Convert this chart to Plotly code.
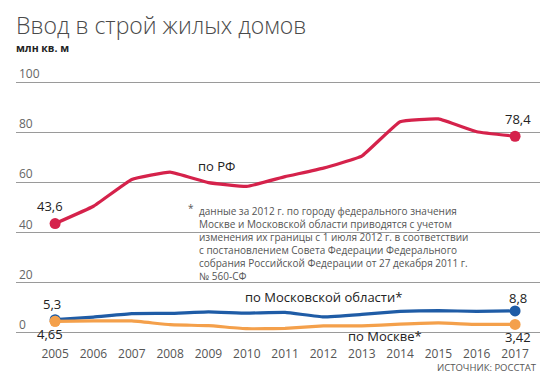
import plotly.graph_objects as go

years = list(range(2005, 2018))
rf = [43.6, 50.5, 61.2, 64.1, 59.9, 58.4, 62.3, 65.7, 70.5, 84.2, 85.3, 80.2, 78.4]
mo = [5.3, 6.3, 7.7, 7.8, 8.4, 7.9, 8.2, 6.4, 7.4, 8.6, 8.9, 8.6, 8.8]
msk = [4.65, 4.8, 4.8, 3.3, 2.9, 1.7, 1.8, 2.8, 2.8, 3.5, 4.0, 3.4, 3.42]
y_ticks = [0, 20, 40, 60, 80, 100]

title = "Ввод в строй жилых домов"
subtitle = "млн кв. м"
note_lines = [
    "данные за 2012 г. по городу федерального значения",
    "Москве и Московской области приводятся с учетом",
    "изменения их границы с 1 июля 2012 г. в соответствии",
    "с постановлением Совета Федерации Федерального",
    "собрания Российской Федерации от 27 декабря 2011 г.",
    "№ 560-СФ",
]
source = "ИСТОЧНИК: РОССТАТ"

RED = "#d5224b"
BLUE = "#1f5ca6"
ORANGE = "#f4a04b"
FONT = "Open Sans"

fig = go.Figure()

def add_series(vals, color):
    fig.add_trace(go.Scatter(x=years, y=vals, mode="lines",
                             line=dict(color=color, width=3.2, shape="spline", smoothing=0.3),
                             hoverinfo="skip", showlegend=False))
    fig.add_trace(go.Scatter(x=[years[0], years[-1]], y=[vals[0], vals[-1]], mode="markers",
                             marker=dict(color=color, size=11), hoverinfo="skip", showlegend=False))

add_series(rf, RED)
add_series(mo, BLUE)
add_series(msk, ORANGE)
# 2005 marker: orange covers blue
fig.add_trace(go.Scatter(x=[years[0]], y=[msk[0]], mode="markers",
                         marker=dict(color=ORANGE, size=11), hoverinfo="skip", showlegend=False))

ann = []
for t in y_ticks:
    ann.append(dict(x=0, xref="paper", y=t, yref="y", text=str(t), showarrow=False,
                    xanchor="left", yanchor="bottom", xshift=1, yshift=-2,
                    font=dict(family=FONT, size=12, color="#666")))

def lab(x, y, text, xa="center", ya="middle", size=13, color="#222", xs=0, ys=0, align="center"):
    ann.append(dict(x=x, y=y, xref="x", yref="y", text=text, showarrow=False,
                    xanchor=xa, yanchor=ya, xshift=xs, yshift=ys, align=align,
                    font=dict(family=FONT, size=size, color=color)))

lab(years[0], rf[0], "43,6", ys=18, xs=-5)
lab(years[-1], rf[-1], "78,4", ys=17, xs=3)
lab(years[0], mo[0], "5,3", ys=16, xs=-3)
lab(years[0], msk[0], "4,65", ys=-13, xs=-5)
lab(years[-1], mo[-1], "8,8", ys=13, xs=3)
lab(years[-1], msk[-1], "3,42", ys=-13, xs=3)

lab(2009.2, 66.5, "по РФ")
lab(2009.9, 14.5, "по Московской области*", xa="left")
lab(2012.58, -1.3, "по Москве*", xa="left")

lab(2008.70, 52.2, "<br>".join(note_lines), xa="left", ya="top", size=10, color="#555", align="left")
lab(2008.70, 49.6, "*", xa="right", size=10, color="#555", xs=-1, ys=1)

ann.append(dict(x=1, xref="paper", y=-0.1, yref="paper", text=source, showarrow=False,
                xanchor="right", yanchor="middle", xshift=-1,
                font=dict(family=FONT, size=9.5, color="#555")))
ann.append(dict(x=-0.003, xref="paper", y=1.168, yref="paper", text=title, showarrow=False,
                xanchor="left", yanchor="middle",
                font=dict(family=FONT, size=23, color="#4a4a4a", weight=300)))
ann.append(dict(x=-0.003, xref="paper", y=1.08, yref="paper", text=subtitle, showarrow=False,
                xanchor="left", yanchor="middle",
                font=dict(family=FONT, size=10.5, color="#222", weight=700)))

# the page body has an 8px margin, so the figure is laid out 8px smaller
fig.update_layout(
    template="none",
    width=542, height=372,
    margin=dict(l=8, r=10, t=62, b=40, pad=0),
    paper_bgcolor="white", plot_bgcolor="white",
    annotations=ann,
    xaxis=dict(range=[2003.98, 2017.65], tickmode="array", tickvals=years, automargin=False,
               ticktext=[str(y) for y in years], showgrid=False, zeroline=False,
               showline=False, ticks="", tickfont=dict(family=FONT, size=12, color="#555"),
               ticklabelstandoff=5),
    yaxis=dict(range=[-2.8, 104.8], tickvals=y_ticks, showticklabels=False, automargin=False,
               showgrid=True, gridcolor="#9a9a9a", gridwidth=1.2, zeroline=False),
)

fig.write_html("out.html")
